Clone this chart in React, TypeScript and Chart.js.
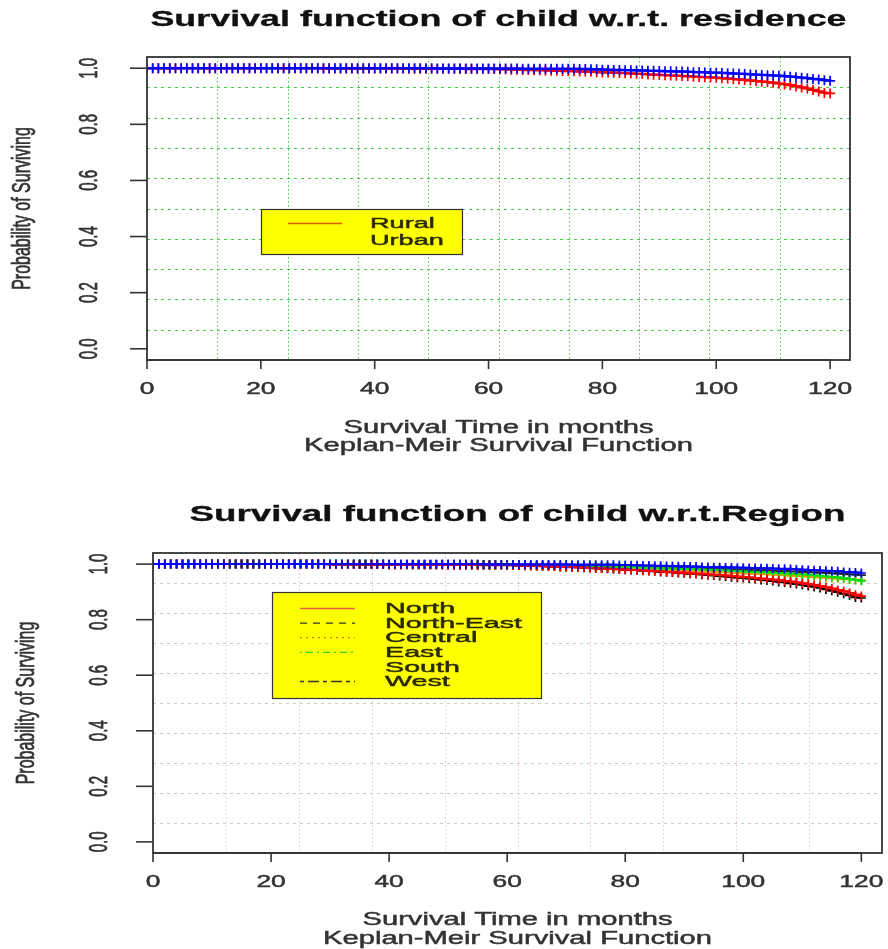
import React, { useEffect, useRef } from "react";
import { Chart, registerables } from "chart.js";
Chart.register(...registerables);

// ---------------- data ----------------
const months = [
  0, 1, 2, 3, 4, 5, 6, 7, 8, 9,
  10, 11, 12, 13, 14, 15, 16, 17, 18, 19,
  20, 21, 22, 23, 24, 25, 26, 27, 28, 29,
  30, 31, 32, 33, 34, 35, 36, 37, 38, 39,
  40, 41, 42, 43, 44, 45, 46, 47, 48, 49,
  50, 51, 52, 53, 54, 55, 56, 57, 58, 59,
  60, 61, 62, 63, 64, 65, 66, 67, 68, 69,
  70, 71, 72, 73, 74, 75, 76, 77, 78, 79,
  80, 81, 82, 83, 84, 85, 86, 87, 88, 89,
  90, 91, 92, 93, 94, 95, 96, 97, 98, 99,
  100, 101, 102, 103, 104, 105, 106, 107, 108, 109,
  110, 111, 112, 113, 114, 115, 116, 117, 118, 119,
  120,
];

const ruralSurv = [
  1, 1, 1, 1, 1, 1, 1, 1, 1, 1,
  1, 1, 1, 1, 1, 1, 1, 1, 1, 1,
  1, 1, 1, 1, 1, 1, 1, 1, 1, 1,
  1, 0.999, 0.999, 0.999, 0.999, 0.999, 0.999, 0.999, 0.999, 0.999,
  0.999, 0.999, 0.999, 0.999, 0.999, 0.999, 0.998, 0.998, 0.998, 0.998,
  0.998, 0.998, 0.998, 0.998, 0.998, 0.998, 0.997, 0.997, 0.997, 0.997,
  0.997, 0.997, 0.996, 0.996, 0.995, 0.995, 0.994, 0.994, 0.993, 0.993,
  0.992, 0.991, 0.991, 0.99, 0.99, 0.989, 0.988, 0.988, 0.987, 0.986,
  0.985, 0.985, 0.984, 0.983, 0.982, 0.981, 0.98, 0.979, 0.978, 0.977,
  0.976, 0.975, 0.974, 0.973, 0.972, 0.971, 0.97, 0.969, 0.968, 0.967,
  0.966, 0.964, 0.963, 0.961, 0.96, 0.958, 0.956, 0.954, 0.952, 0.95,
  0.948, 0.945, 0.942, 0.939, 0.935, 0.931, 0.927, 0.922, 0.917, 0.912,
  0.91,
];

const urbanSurv = [
  1, 1, 1, 1, 1, 1, 1, 1, 1, 1,
  1, 1, 1, 1, 1, 1, 1, 1, 1, 1,
  1, 1, 1, 1, 1, 1, 1, 1, 1, 1,
  1, 1, 1, 1, 1, 1, 1, 1, 1, 1,
  1, 1, 1, 1, 1, 1, 1, 1, 1, 1,
  1, 0.999, 0.999, 0.999, 0.999, 0.999, 0.999, 0.999, 0.999, 0.999,
  0.999, 0.999, 0.999, 0.999, 0.999, 0.999, 0.998, 0.998, 0.998, 0.998,
  0.998, 0.998, 0.998, 0.998, 0.998, 0.998, 0.997, 0.997, 0.996, 0.996,
  0.995, 0.995, 0.994, 0.994, 0.993, 0.993, 0.992, 0.992, 0.991, 0.991,
  0.99, 0.989, 0.989, 0.988, 0.988, 0.987, 0.986, 0.986, 0.985, 0.984,
  0.984, 0.983, 0.982, 0.981, 0.98, 0.979, 0.978, 0.977, 0.976, 0.975,
  0.974, 0.973, 0.971, 0.97, 0.968, 0.966, 0.964, 0.962, 0.96, 0.957,
  0.955,
];

const northSurv = [
  1, 1, 1, 1, 1, 1, 1, 1, 1, 1,
  1, 1, 1, 1, 1, 1, 1, 1, 1, 1,
  1, 1, 1, 1, 1, 1, 1, 1, 1, 1,
  0.999, 0.999, 0.999, 0.999, 0.999, 0.999, 0.999, 0.999, 0.999, 0.999,
  0.998, 0.998, 0.998, 0.998, 0.998, 0.998, 0.998, 0.998, 0.998, 0.998,
  0.998, 0.997, 0.997, 0.997, 0.997, 0.996, 0.996, 0.996, 0.996, 0.996,
  0.996, 0.995, 0.995, 0.994, 0.994, 0.993, 0.992, 0.992, 0.991, 0.99,
  0.989, 0.989, 0.988, 0.987, 0.986, 0.985, 0.984, 0.983, 0.982, 0.981,
  0.98, 0.979, 0.978, 0.977, 0.976, 0.975, 0.974, 0.972, 0.971, 0.97,
  0.969, 0.967, 0.966, 0.965, 0.963, 0.962, 0.96, 0.959, 0.957, 0.955,
  0.954, 0.952, 0.95, 0.948, 0.946, 0.944, 0.942, 0.939, 0.937, 0.934,
  0.931, 0.928, 0.925, 0.921, 0.917, 0.912, 0.907, 0.902, 0.896, 0.89,
  0.885,
];

const northEastSurv = [
  1, 1, 1, 1, 1, 1, 1, 1, 1, 1,
  1, 1, 1, 1, 1, 1, 1, 1, 1, 1,
  1, 1, 1, 1, 1, 1, 1, 1, 1, 1,
  1, 1, 1, 1, 1, 1, 1, 1, 1, 1,
  0.999, 0.999, 0.999, 0.999, 0.999, 0.999, 0.999, 0.999, 0.999, 0.999,
  0.999, 0.999, 0.998, 0.998, 0.998, 0.998, 0.998, 0.998, 0.998, 0.998,
  0.998, 0.998, 0.997, 0.997, 0.997, 0.996, 0.996, 0.996, 0.995, 0.995,
  0.995, 0.994, 0.994, 0.993, 0.993, 0.992, 0.992, 0.991, 0.991, 0.99,
  0.99, 0.989, 0.989, 0.988, 0.988, 0.987, 0.987, 0.986, 0.986, 0.985,
  0.985, 0.984, 0.984, 0.983, 0.983, 0.982, 0.982, 0.981, 0.981, 0.98,
  0.98, 0.979, 0.978, 0.978, 0.977, 0.976, 0.975, 0.975, 0.974, 0.973,
  0.972, 0.971, 0.97, 0.969, 0.968, 0.967, 0.966, 0.965, 0.963, 0.962,
  0.96,
];

const centralSurv = [
  1, 1, 1, 1, 1, 1, 1, 1, 1, 1,
  1, 1, 1, 1, 1, 1, 1, 1, 1, 1,
  1, 1, 1, 1, 1, 1, 1, 1, 1, 1,
  0.999, 0.999, 0.999, 0.999, 0.999, 0.999, 0.999, 0.999, 0.999, 0.999,
  0.998, 0.998, 0.998, 0.998, 0.998, 0.998, 0.998, 0.998, 0.998, 0.998,
  0.997, 0.997, 0.997, 0.997, 0.997, 0.996, 0.996, 0.996, 0.996, 0.996,
  0.996, 0.995, 0.995, 0.994, 0.994, 0.993, 0.993, 0.992, 0.992, 0.991,
  0.991, 0.99, 0.99, 0.989, 0.988, 0.988, 0.987, 0.986, 0.986, 0.985,
  0.984, 0.984, 0.983, 0.982, 0.981, 0.981, 0.98, 0.979, 0.978, 0.977,
  0.977, 0.976, 0.975, 0.974, 0.973, 0.972, 0.971, 0.97, 0.969, 0.968,
  0.967, 0.966, 0.965, 0.964, 0.963, 0.962, 0.961, 0.96, 0.958, 0.957,
  0.956, 0.955, 0.953, 0.952, 0.95, 0.949, 0.948, 0.946, 0.945, 0.944,
  0.942,
];

const eastSurv = [
  1, 1, 1, 1, 1, 1, 1, 1, 1, 1,
  1, 1, 1, 1, 1, 1, 1, 1, 1, 1,
  1, 1, 1, 1, 1, 1, 1, 1, 1, 1,
  1, 1, 1, 1, 1, 1, 1, 1, 1, 1,
  0.999, 0.999, 0.999, 0.999, 0.999, 0.999, 0.999, 0.999, 0.999, 0.999,
  0.998, 0.998, 0.998, 0.998, 0.998, 0.998, 0.998, 0.998, 0.998, 0.998,
  0.998, 0.997, 0.997, 0.997, 0.996, 0.996, 0.996, 0.995, 0.995, 0.995,
  0.994, 0.994, 0.993, 0.993, 0.992, 0.992, 0.991, 0.991, 0.99, 0.99,
  0.989, 0.989, 0.988, 0.987, 0.987, 0.986, 0.985, 0.985, 0.984, 0.983,
  0.983, 0.982, 0.981, 0.98, 0.98, 0.979, 0.978, 0.977, 0.976, 0.975,
  0.974, 0.973, 0.972, 0.971, 0.97, 0.969, 0.968, 0.967, 0.966, 0.964,
  0.963, 0.962, 0.96, 0.958, 0.956, 0.954, 0.952, 0.949, 0.946, 0.943,
  0.94,
];

const southSurv = [
  1, 1, 1, 1, 1, 1, 1, 1, 1, 1,
  1, 1, 1, 1, 1, 1, 1, 1, 1, 1,
  1, 1, 1, 1, 1, 1, 1, 1, 1, 1,
  1, 1, 1, 1, 1, 1, 1, 1, 1, 1,
  1, 1, 1, 1, 1, 1, 1, 1, 1, 1,
  1, 1, 1, 1, 1, 1, 0.999, 0.999, 0.999, 0.999,
  0.999, 0.999, 0.999, 0.999, 0.999, 0.999, 0.999, 0.999, 0.999, 0.999,
  0.999, 0.998, 0.998, 0.998, 0.998, 0.998, 0.998, 0.998, 0.998, 0.997,
  0.997, 0.996, 0.996, 0.995, 0.995, 0.994, 0.994, 0.993, 0.993, 0.992,
  0.992, 0.991, 0.991, 0.99, 0.99, 0.989, 0.989, 0.988, 0.988, 0.987,
  0.987, 0.986, 0.986, 0.985, 0.985, 0.984, 0.983, 0.983, 0.982, 0.981,
  0.98, 0.979, 0.978, 0.977, 0.976, 0.975, 0.974, 0.972, 0.971, 0.97,
  0.968,
];

const westSurv = [
  1, 1, 1, 1, 1, 1, 1, 1, 1, 1,
  1, 1, 1, 1, 1, 1, 1, 1, 1, 1,
  1, 1, 1, 1, 1, 1, 1, 1, 1, 1,
  0.999, 0.999, 0.999, 0.999, 0.999, 0.999, 0.999, 0.999, 0.999, 0.999,
  0.998, 0.998, 0.998, 0.998, 0.998, 0.998, 0.998, 0.998, 0.998, 0.998,
  0.997, 0.997, 0.997, 0.997, 0.997, 0.997, 0.997, 0.997, 0.997, 0.997,
  0.996, 0.996, 0.995, 0.995, 0.994, 0.993, 0.993, 0.992, 0.991, 0.99,
  0.99, 0.989, 0.988, 0.987, 0.986, 0.985, 0.984, 0.983, 0.982, 0.981,
  0.98, 0.979, 0.978, 0.976, 0.975, 0.974, 0.972, 0.971, 0.97, 0.968,
  0.967, 0.965, 0.964, 0.962, 0.96, 0.959, 0.957, 0.955, 0.953, 0.951,
  0.95, 0.948, 0.946, 0.943, 0.941, 0.939, 0.936, 0.934, 0.931, 0.928,
  0.925, 0.921, 0.918, 0.914, 0.909, 0.904, 0.899, 0.893, 0.887, 0.88,
  0.878,
];

const xTickValues = [0, 20, 40, 60, 80, 100, 120];
const xTickLabels = ["0", "20", "40", "60", "80", "100", "120"];
const yTickValues = [0, 0.2, 0.4, 0.6, 0.8, 1.0];
const yTickLabels = ["0.0", "0.2", "0.4", "0.6", "0.8", "1.0"];

const residenceLabels = ["Rural", "Urban"];
const regionLabels = ["North", "North-East", "Central", "East", "South", "West"];

const topTitle = "Survival function of child w.r.t. residence";
const bottomTitle = "Survival function of child w.r.t.Region";
const xAxisTitle = ["Survival Time in months", "Keplan-Meir Survival Function"];
const yAxisTitle = "Probability of Surviving";

// ---------------- drawing helpers ----------------
const FONT = '"Liberation Sans", Arial, Helvetica, sans-serif';

function drawText(
  ctx: CanvasRenderingContext2D,
  s: string,
  x: number,
  y: number,
  size: number,
  sx: number,
  opt: { bold?: boolean; align?: CanvasTextAlign; rot?: boolean; color?: string; stroke?: number } = {}
) {
  ctx.save();
  ctx.translate(x, y);
  if (opt.rot) {
    ctx.rotate(-Math.PI / 2);
    ctx.scale(1, sx);
  } else {
    ctx.scale(sx, 1);
  }
  ctx.font = `${opt.bold ? "bold " : ""}${size}px ${FONT}`;
  ctx.textAlign = opt.align || "center";
  ctx.textBaseline = "middle";
  ctx.fillStyle = opt.color || "#222";
  ctx.fillText(s, 0, 0);
  const sw = opt.stroke === undefined ? 0.45 : opt.stroke;
  if (sw > 0) {
    ctx.strokeStyle = opt.color || "#222";
    ctx.lineWidth = sw;
    ctx.setLineDash([]);
    ctx.strokeText(s, 0, 0);
  }
  ctx.restore();
}

type LegendItem = { label: string; color: string | null; dash: number[] };

type Spec = {
  title: string;
  titleY: number;
  titleSx: number;
  gridHColor: string;
  gridHDash: number[];
  gridVColor: string;
  gridVDash: number[];
  xLabelY: number;
  yLabelX: number;
  xTitleY: number[];
  yTitleX: number;
  xTickLen: number;
  yTickLen: number;
  legendBox: number[];
  legendRows: number[];
  legendLineX: number[];
  legendTextX: number;
  legendSize: number;
  legendSx: number;
  legendItems: LegendItem[];
};

function makeDecor(spec: Spec) {
  return {
    id: "decor",
    beforeDatasetsDraw(chart: any) {
      const ctx: CanvasRenderingContext2D = chart.ctx;
      const ca = chart.chartArea;
      const xs = chart.scales.x;
      const ys = chart.scales.y;
      ctx.save();
      ctx.lineWidth = 1;
      // grid(10, 10): equal divisions of the plotting range
      ctx.strokeStyle = spec.gridVColor;
      ctx.setLineDash(spec.gridVDash);
      for (let i = 1; i < 10; i++) {
        const v = xs.min + ((xs.max - xs.min) * i) / 10;
        const px = Math.round(xs.getPixelForValue(v)) + 0.5;
        ctx.beginPath();
        ctx.moveTo(px, ca.top);
        ctx.lineTo(px, ca.bottom);
        ctx.stroke();
      }
      ctx.strokeStyle = spec.gridHColor;
      ctx.setLineDash(spec.gridHDash);
      for (let i = 1; i < 10; i++) {
        const v = ys.min + ((ys.max - ys.min) * i) / 10;
        const py = Math.round(ys.getPixelForValue(v)) + 0.5;
        ctx.beginPath();
        ctx.moveTo(ca.left, py);
        ctx.lineTo(ca.right, py);
        ctx.stroke();
      }
      ctx.restore();
    },
    afterDatasetsDraw(chart: any) {
      const ctx: CanvasRenderingContext2D = chart.ctx;
      const ca = chart.chartArea;
      const xs = chart.scales.x;
      const ys = chart.scales.y;
      ctx.save();
      // legend
      const [lx0, ly0, lx1, ly1] = spec.legendBox;
      ctx.fillStyle = "#ffff00";
      ctx.fillRect(lx0, ly0, lx1 - lx0, ly1 - ly0);
      ctx.strokeStyle = "#333";
      ctx.lineWidth = 1.2;
      ctx.setLineDash([]);
      ctx.strokeRect(lx0 + 0.5, ly0 + 0.5, lx1 - lx0, ly1 - ly0);
      spec.legendItems.forEach((it, i) => {
        const y = spec.legendRows[i];
        if (it.color) {
          ctx.strokeStyle = it.color;
          ctx.lineWidth = 1.3;
          ctx.setLineDash(it.dash);
          ctx.beginPath();
          ctx.moveTo(spec.legendLineX[0], y + 0.5);
          ctx.lineTo(spec.legendLineX[1], y + 0.5);
          ctx.stroke();
        }
        ctx.setLineDash([]);
        drawText(ctx, it.label, spec.legendTextX, y + 1, spec.legendSize, spec.legendSx, {
          align: "left",
          color: "#2a2a00",
        });
      });
      ctx.setLineDash([]);

      // box
      ctx.strokeStyle = "#333";
      ctx.lineWidth = 1.8;
      ctx.strokeRect(ca.left, ca.top, ca.right - ca.left, ca.bottom - ca.top);

      // x axis
      ctx.lineWidth = 1.6;
      const x0 = xs.getPixelForValue(xTickValues[0]);
      const x1 = xs.getPixelForValue(xTickValues[xTickValues.length - 1]);
      ctx.beginPath();
      ctx.moveTo(x0, ca.bottom);
      ctx.lineTo(x1, ca.bottom);
      ctx.stroke();
      xTickValues.forEach((v, i) => {
        const px = xs.getPixelForValue(v);
        ctx.strokeStyle = "#333";
        ctx.lineWidth = 1.6;
        ctx.beginPath();
        ctx.moveTo(px, ca.bottom);
        ctx.lineTo(px, ca.bottom + spec.xTickLen);
        ctx.stroke();
        drawText(ctx, xTickLabels[i], px, spec.xLabelY, 17, 1.55, { color: "#333" });
      });
      // y axis
      yTickValues.forEach((v, i) => {
        const py = ys.getPixelForValue(v);
        ctx.strokeStyle = "#333";
        ctx.lineWidth = 1.6;
        ctx.beginPath();
        ctx.moveTo(ca.left, py);
        ctx.lineTo(ca.left - spec.yTickLen, py);
        ctx.stroke();
        drawText(ctx, yTickLabels[i], spec.yLabelX, py, 15, 1.7, { rot: true, color: "#333" });
      });

      // titles
      const cx = (ca.left + ca.right) / 2;
      drawText(ctx, spec.title, cx, spec.titleY, 22, spec.titleSx, { bold: true, color: "#111", stroke: 0.3 });
      drawText(ctx, xAxisTitle[0], cx, spec.xTitleY[0], 18, 1.62, { color: "#333" });
      drawText(ctx, xAxisTitle[1], cx, spec.xTitleY[1], 18, 1.62, { color: "#333" });
      drawText(ctx, yAxisTitle, spec.yTitleX, (ca.top + ca.bottom) / 2, 16, 1.6, {
        rot: true,
        color: "#333",
      });
      ctx.restore();
    },
  };
}

function series(vals: number[]) {
  return months.map((m, i) => ({ x: m, y: vals[i] }));
}

function kmDataset(vals: number[], color: string, order: number, dash: number[], lw: number, r: number) {
  return {
    data: series(vals),
    borderColor: color,
    backgroundColor: color,
    borderWidth: lw,
    borderDash: dash,
    stepped: true,
    pointStyle: "cross",
    pointRadius: r,
    pointBorderColor: color,
    pointBorderWidth: 1.7,
    order,
  };
}

function KMChart(props: {
  width: number;
  height: number;
  padding: { left: number; right: number; top: number; bottom: number };
  datasets: any[];
  spec: Spec;
}) {
  const ref = useRef<HTMLCanvasElement | null>(null);
  useEffect(() => {
    if (!ref.current) return;
    const chart = new Chart(ref.current, {
      type: "line",
      data: { datasets: props.datasets },
      options: {
        animation: false,
        responsive: false,
        maintainAspectRatio: false,
        layout: { padding: props.padding, autoPadding: false } as any,
        plugins: { legend: { display: false }, tooltip: { enabled: false } },
        scales: {
          x: { type: "linear", min: 0, max: 123.5, display: false },
          y: { type: "linear", min: -0.04, max: 1.04, display: false },
        },
      } as any,
      plugins: [makeDecor(props.spec)],
    });
    return () => chart.destroy();
  }, []);
  return (
    <canvas
      ref={ref}
      width={props.width}
      height={props.height}
      style={{ display: "block", width: props.width, height: props.height }}
    />
  );
}

const topSpec: Spec = {
  title: topTitle,
  titleY: 20,
  titleSx: 1.63,
  gridHColor: "rgba(30,200,30,0.85)",
  gridHDash: [3, 4],
  gridVColor: "rgba(30,200,30,0.85)",
  gridVDash: [1.5, 2.5],
  xLabelY: 389,
  yLabelX: 90,
  xTitleY: [428, 446],
  yTitleX: 23,
  xTickLen: 9,
  yTickLen: 17,
  legendBox: [261, 209, 462, 254],
  legendRows: [223, 240],
  legendLineX: [288, 342],
  legendTextX: 370,
  legendSize: 15.5,
  legendSx: 1.75,
  legendItems: [
    { label: residenceLabels[0], color: "#e85a00", dash: [] },
    { label: residenceLabels[1], color: null, dash: [] },
  ],
};

const bottomSpec: Spec = {
  title: bottomTitle,
  titleY: 45,
  titleSx: 1.67,
  gridHColor: "#c9c9c9",
  gridHDash: [3, 4],
  gridVColor: "#f0c0c8",
  gridVDash: [1.5, 2.5],
  xLabelY: 412,
  yLabelX: 100,
  xTitleY: [450, 469],
  yTitleX: 27,
  xTickLen: 9,
  yTickLen: 17,
  legendBox: [272, 122, 541, 228],
  legendRows: [138, 152.6, 167.2, 181.8, 196.4, 211],
  legendLineX: [300, 355],
  legendTextX: 385,
  legendSize: 15.5,
  legendSx: 1.85,
  legendItems: [
    { label: regionLabels[0], color: "#f06040", dash: [] },
    { label: regionLabels[1], color: "#333", dash: [7, 6] },
    { label: regionLabels[2], color: "#e06a00", dash: [2, 4] },
    { label: regionLabels[3], color: "#30d030", dash: [2, 4, 7, 4] },
    { label: regionLabels[4], color: null, dash: [] },
    { label: regionLabels[5], color: "#333", dash: [4, 4, 11, 4] },
  ],
};

const topDatasets = [
  kmDataset(urbanSurv, "#0000ff", 0, [], 2.5, 5),
  kmDataset(ruralSurv, "#ff0000", 1, [], 2.5, 5),
];

const bottomDatasets = [
  kmDataset(southSurv, "#0000ff", 0, [], 2, 4.5),
  kmDataset(northSurv, "#ff0000", 1, [], 2, 4.5),
  kmDataset(westSurv, "#000000", 2, [4, 3, 10, 3], 2, 4.5),
  kmDataset(eastSurv, "#00dd00", 3, [2, 3, 6, 3], 2, 4.5),
  kmDataset(centralSurv, "#e0a000", 4, [2, 3], 2, 4.5),
  kmDataset(northEastSurv, "#222222", 5, [6, 4], 2, 4.5),
];

export default function App() {
  return (
    <div
      style={{
        position: "absolute",
        left: 0,
        top: 0,
        width: 888,
        height: 949,
        background: "#ffffff",
      }}
    >
      <KMChart
        width={888}
        height={470}
        padding={{ left: 147, right: 38, top: 57, bottom: 110 }}
        datasets={topDatasets}
        spec={topSpec}
      />
      <KMChart
        width={888}
        height={479}
        padding={{ left: 153, right: 6, top: 83, bottom: 96 }}
        datasets={bottomDatasets}
        spec={bottomSpec}
      />
    </div>
  );
}
